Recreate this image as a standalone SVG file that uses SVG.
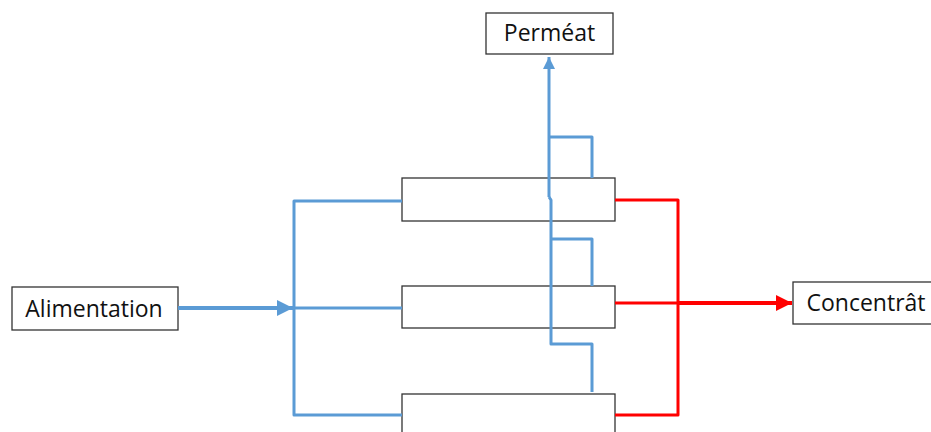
<svg xmlns="http://www.w3.org/2000/svg" width="931" height="432" viewBox="0 0 931 432">
<defs>
<style>
.box{fill:#fff;stroke:#333;stroke-width:1.3}
.lbl{font-family:"Open Sans","Liberation Sans",sans-serif;font-size:23px;fill:#111;text-anchor:middle}
.blue{fill:none;stroke:#5B9BD5;stroke-width:3;stroke-linejoin:round}
.red{fill:none;stroke:#FF0000;stroke-width:3;stroke-linejoin:round}
</style>
<marker id="ab" markerWidth="4" markerHeight="4" refX="4" refY="2" orient="auto" markerUnits="strokeWidth"><path d="M0,0 L4,2 L0,4 Z" fill="#5B9BD5"/></marker>
<marker id="ar" markerWidth="4" markerHeight="4" refX="4" refY="2" orient="auto" markerUnits="strokeWidth"><path d="M0,0 L4,2 L0,4 Z" fill="#FF0000"/></marker>
</defs>
<rect width="931" height="432" fill="#fff"/>
<g id="permeat"><rect class="box" x="486" y="13" width="127" height="41"/><text class="lbl" x="549.5" y="41">Perméat</text></g>
<g id="module1"><rect class="box" x="402" y="178" width="213" height="43"/></g>
<g id="module2"><rect class="box" x="402" y="286" width="213" height="42"/></g>
<g id="module3"><rect class="box" x="402" y="394" width="213" height="50"/></g>
<g id="alimentation"><rect class="box" x="12" y="287" width="166" height="43"/><text class="lbl" x="94" y="317">Alimentation</text></g>
<g id="concentrat"><rect class="box" x="793" y="282" width="145" height="42"/><text class="lbl" x="866" y="311">Concentrât</text></g>
<g id="connectors">
<path class="blue" d="M402,201 H294 V415 H402"/>
<path class="blue" d="M294,308 H402"/>
<path class="blue" style="stroke-width:4" d="M178,308 H293" marker-end="url(#ab)"/>
<path class="blue" d="M592,178 V137 H549"/>
<path class="blue" d="M549,197 V57" marker-end="url(#ab)"/>
<path class="blue" d="M549,197 L551,200 V344 H592 V392"/>
<path class="blue" d="M551,239 H592 V286"/>
<path class="red" d="M615,200 H678 V415 H615"/>
<path class="red" d="M615,303 H678"/>
<path class="red" style="stroke-width:4" d="M678,303 H792" marker-end="url(#ar)"/>
</g>
</svg>
